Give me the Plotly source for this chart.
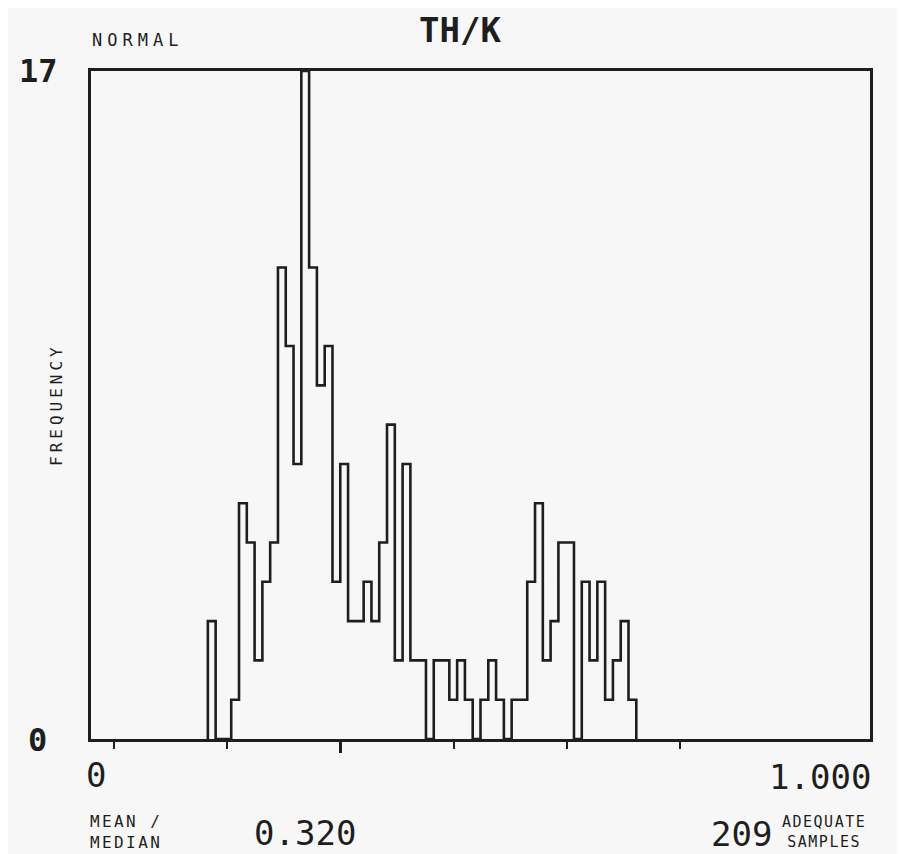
import numpy as np
import plotly.graph_objects as go

# ---- data ----
bin_start = 0.15
bin_width = 0.01
counts = [3, 0, 0, 1, 6, 5, 2, 4, 5, 12, 10, 7, 17, 12, 9, 10, 4, 7, 3, 3,
          4, 3, 5, 8, 2, 7, 2, 2, 0, 2, 2, 1, 2, 1, 0, 1, 2, 1, 0, 1,
          1, 4, 6, 2, 3, 5, 5, 0, 4, 2, 4, 1, 2, 3, 1]
x_ticks = [0.029, 0.1745, 0.4655, 0.611, 0.7565]
median_value = 0.320
n_samples = 209
y_max = 17
title_text = "TH/K"

edges = [round(bin_start + i * bin_width, 4) for i in range(len(counts) + 1)]
step_x = [edges[0]] + edges
step_y = [0] + counts + [0]

INK = "#1e1e1e"
MONO = "DejaVu Sans Mono"
BG = "#f7f7f7"

fig = go.Figure()
fig.add_trace(go.Scatter(x=step_x, y=step_y, mode="lines", line_shape="hv",
                         line=dict(color=INK, width=2.6), hoverinfo="skip",
                         showlegend=False))
# invisible trace to bind the median tick axis
fig.add_trace(go.Scatter(x=[median_value], y=[0], xaxis="x2", mode="markers",
                         marker=dict(opacity=0), showlegend=False, hoverinfo="skip"))

# page body has a default 8px margin; compensate so the figure fills the window
OFF = 8
W, H = 905 - OFF, 854 - OFF
# target plot box in window pixels: x 91..870, y 71..739
L = 91 - OFF
R = W - (870 - OFF)
T = 71 - OFF
B = H - (739 - OFF)
pw, ph = W - L - R, H - T - B


def px(xw):
    return (xw - OFF - L) / pw


def py(yw):
    return (H - B - (yw - OFF)) / ph


def sp(text, ls):
    return f'<span style="letter-spacing:{ls}px">{text}</span>'


ann = []
def add(text, x, y, size, xanchor="center", yanchor="middle", bold=False, ls=0, align="left", angle=0):
    t = sp(text, ls) if ls else text
    if bold:
        t = f"<b>{t}</b>"
    ann.append(dict(text=t, x=px(x), y=py(y), xref="paper", yref="paper",
                    xanchor=xanchor, yanchor=yanchor, showarrow=False, align=align,
                    textangle=angle,
                    font=dict(family=MONO, size=size, color=INK)))

add("NORMAL", 90, 40, 17, xanchor="left", ls=5)
add(title_text, 460, 30, 34, bold=True)
add(str(y_max), 60, 71, 32, xanchor="right", bold=True)
add("0", 49, 740, 32, xanchor="right", bold=True)
add("FREQUENCY", 56, 405, 16, ls=4, angle=-90)
add("0", 96, 775, 34)
add("1.000", 873, 777, 34, xanchor="right")
add("MEAN /<br>MEDIAN", 88, 832, 16, xanchor="left", ls=2.4, align="left")
add(f"{median_value:.3f}", 252, 833, 34, xanchor="left")
add(str(n_samples), 774, 834, 34, xanchor="right")
add("ADEQUATE<br>SAMPLES", 824, 832, 15, ls=1.5, align="center")

fig.update_layout(
    width=W, height=H,
    margin=dict(l=L, r=R, t=T, b=B, pad=0),
    paper_bgcolor=BG, plot_bgcolor=BG,
    showlegend=False,
    xaxis=dict(range=[0, 1], showline=True, mirror=True, linecolor=INK, linewidth=2.5,
               ticks="outside", tickvals=x_ticks, ticklen=7, tickwidth=2.2, tickcolor=INK,
               showticklabels=False, showgrid=False, zeroline=False, fixedrange=True),
    xaxis2=dict(range=[0, 1], overlaying="x", anchor="y", side="bottom", showline=False,
                ticks="outside", tickvals=[median_value], ticklen=13, tickwidth=2.6,
                tickcolor=INK, showticklabels=False, showgrid=False, zeroline=False),
    yaxis=dict(range=[0, y_max], showline=True, mirror=True, linecolor=INK, linewidth=2.5,
               ticks="", showticklabels=False, showgrid=False, zeroline=False, fixedrange=True),
    annotations=ann,
)

fig.write_html("out.html")
